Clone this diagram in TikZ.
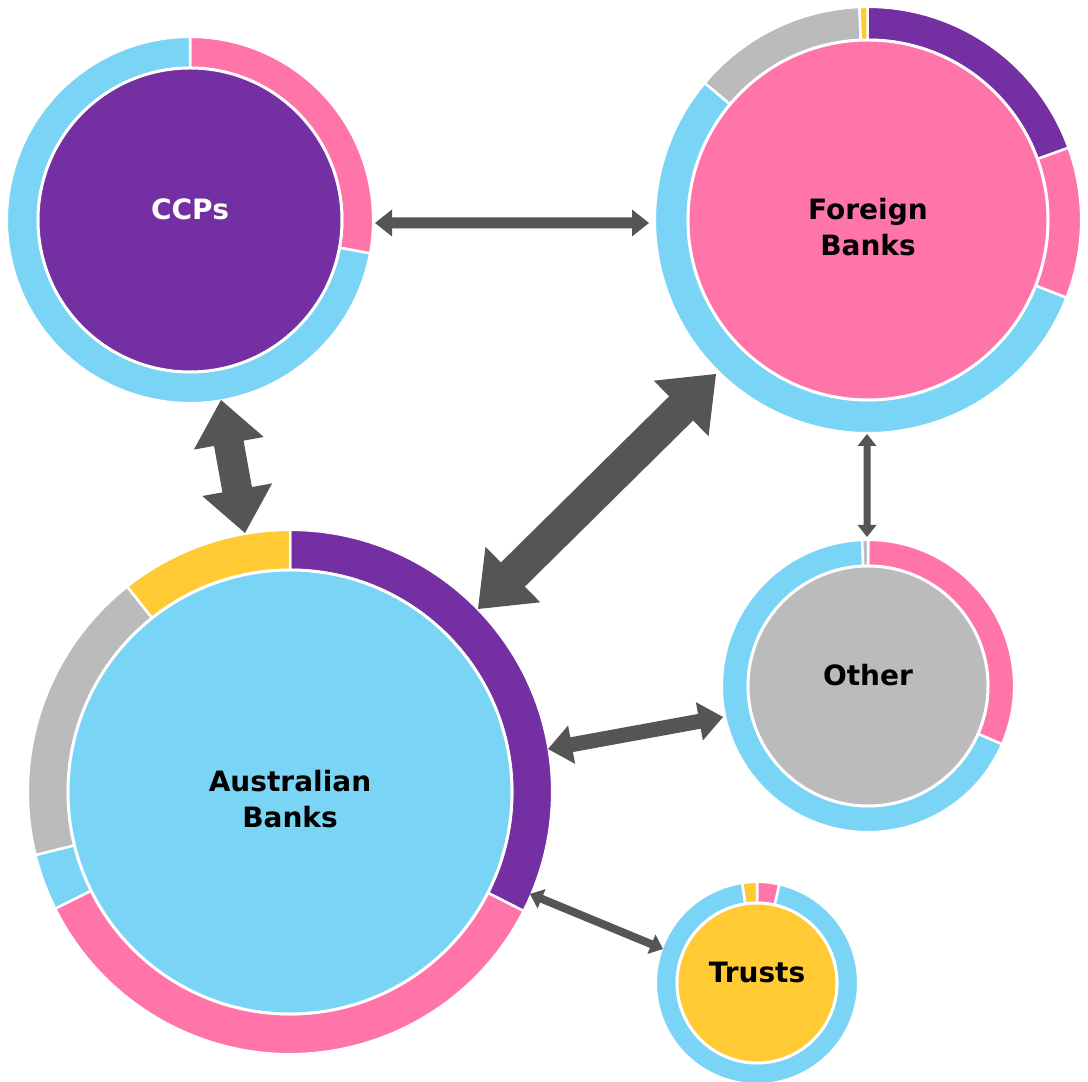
\documentclass[tikz,border=0pt]{standalone}
\usepackage{fontspec}
\setmainfont{DejaVu Sans}
\usetikzlibrary{calc}
\definecolor{cpurple}{RGB}{116,47,162}
\definecolor{cpink}{RGB}{255,117,170}
\definecolor{cblue}{RGB}{122,212,245}
\definecolor{cgray}{RGB}{187,187,187}
\definecolor{cyellow}{RGB}{255,202,51}
\definecolor{carrow}{RGB}{85,85,85}
% ring segment: centre, r in, r out, start angle, end angle, colour
\newcommand\ringseg[6]{%
  \filldraw[#6, draw=white, line width=2.5pt, shift={(#1)}]
    (#4:#3pt) arc[start angle=#4, end angle=#5, radius=#3pt]
    -- (#5:#2pt) arc[start angle=#5, end angle=#4, radius=#2pt] -- cycle;}
% double arrow: from, to, half shaft, half head, head length
\newcommand\dblarrow[5]{%
  \coordinate (h1) at ($(#1)!#5!(#2)$);
  \coordinate (h2) at ($(#2)!#5!(#1)$);
  \fill[arrowfill] (#1)
    -- ($(h1)!#4!90:(#2)$) -- ($(h1)!#3!90:(#2)$)
    -- ($(h2)!#3!-90:(#1)$) -- ($(h2)!#4!-90:(#1)$)
    -- (#2)
    -- ($(h2)!#4!90:(#1)$) -- ($(h2)!#3!90:(#1)$)
    -- ($(h1)!#3!-90:(#2)$) -- ($(h1)!#4!-90:(#2)$) -- cycle;}
\begin{document}
\begin{tikzpicture}[x=1pt,y=1pt,
  disc/.style={circle, inner sep=0pt, draw=white, line width=3pt},
  lbl/.style={font=\fontsize{28}{36}\selectfont\bfseries, inner sep=0pt, align=center, anchor=base},
  twoline/.style={yshift=-36pt},
  arrowfill/.style={fill=carrow}]
\useasboundingbox (0,0) rectangle (1088,1082);
% centres
\coordinate (ccpc) at (190,862);
\coordinate (fbc) at (868,862);
\coordinate (othc) at (868,396);
\coordinate (trc) at (757,99);
\coordinate (ausc) at (290,290);
% CCPs ring
\ringseg{ccpc}{152}{183.2}{90}{-10.5}{cpink}
\ringseg{ccpc}{152}{183.2}{-10.5}{-270}{cblue}
% Foreign Banks ring
\ringseg{fbc}{180}{213.2}{90.1}{19.8}{cpurple}
\ringseg{fbc}{180}{213.2}{19.8}{-21.4}{cpink}
\ringseg{fbc}{180}{213.2}{-21.4}{-220}{cblue}
\ringseg{fbc}{180}{213.2}{-220}{-267.7}{cgray}
\ringseg{fbc}{180}{213.2}{-267.7}{-269.9}{cyellow}
% Other ring
\ringseg{othc}{120}{146.2}{90}{-23.5}{cpink}
\ringseg{othc}{120}{146.2}{-23.5}{-267.7}{cblue}
\ringseg{othc}{120}{146.2}{-267.7}{-270}{cgray}
% Trusts ring
\ringseg{trc}{80}{101.2}{90}{77.2}{cpink}
\ringseg{trc}{80}{101.2}{77.2}{-261.6}{cblue}
\ringseg{trc}{80}{101.2}{-261.6}{-270}{cyellow}
% Australian Banks ring
\ringseg{ausc}{222}{262.2}{90}{-27}{cpurple}
\ringseg{ausc}{222}{262.2}{-27}{-153.6}{cpink}
\ringseg{ausc}{222}{262.2}{-153.6}{-166.1}{cblue}
\ringseg{ausc}{222}{262.2}{-166.1}{-231.6}{cgray}
\ringseg{ausc}{222}{262.2}{-231.6}{-270}{cyellow}
% inner discs
\node[disc, minimum size=304pt, fill=cpurple] (ccp) at (ccpc) {};
\node[disc, minimum size=360pt, fill=cpink] (fb) at (fbc) {};
\node[disc, minimum size=240pt, fill=cgray] (oth) at (othc) {};
\node[disc, minimum size=160pt, fill=cyellow] (tr) at (trc) {};
\node[disc, minimum size=444pt, fill=cblue] (aus) at (ausc) {};
% labels
\node[lbl, text=white] (ccpl) at (ccpc) {CCPs};
\node[lbl, twoline] (fbl) at (fbc) {Foreign\\Banks};
\node[lbl] (othl) at (othc) {Other};
\node[lbl] (trl) at (trc) {Trusts};
\node[lbl, twoline] (ausl) at (ausc) {Australian\\Banks};
% arrow ends
\coordinate (a1s) at (375,859); \coordinate (a1e) at (649,859);
\coordinate (a2s) at (221,682); \coordinate (a2e) at (245,549);
\coordinate (a3s) at (716,708); \coordinate (a3e) at (478,473);
\coordinate (a4s) at (867,648); \coordinate (a4e) at (867,545);
\coordinate (a5s) at (548,333); \coordinate (a5e) at (723,365);
\coordinate (a6s) at (530,188); \coordinate (a6e) at (663,133);
\dblarrow{a1s}{a1e}{5.5pt}{13.5pt}{17pt}
\dblarrow{a2s}{a2e}{15pt}{35.5pt}{44pt}
\dblarrow{a3s}{a3e}{17pt}{39pt}{49pt}
\dblarrow{a4s}{a4e}{3.5pt}{9.5pt}{12pt}
\dblarrow{a5s}{a5e}{7.5pt}{19.5pt}{24pt}
\dblarrow{a6s}{a6e}{4pt}{10.5pt}{12.5pt}
\end{tikzpicture}
\end{document}
